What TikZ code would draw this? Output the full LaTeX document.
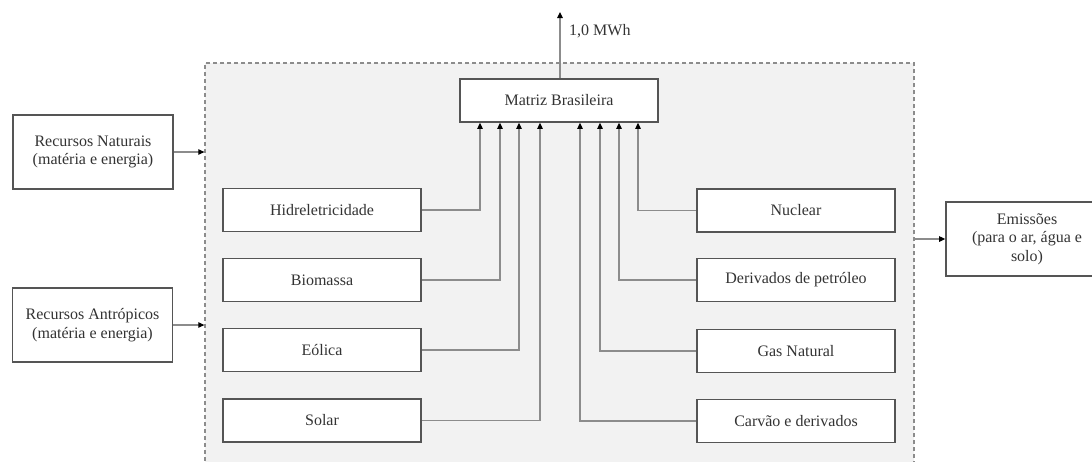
\documentclass[tikz,border=0pt]{standalone}
\usepackage{fontspec}
\setmainfont{Liberation Serif}
\usetikzlibrary{arrows.meta}
\definecolor{boxline}{HTML}{555555}
\definecolor{connline}{HTML}{8C8C8C}
\definecolor{panel}{HTML}{F2F2F2}
\definecolor{txt}{HTML}{333333}
\begin{document}
\begin{tikzpicture}[x=1pt,y=-1pt,
  every node/.style={font=\fontsize{16}{18.5}\selectfont, text=txt},
  srcbox/.style={draw=boxline, line width=1.7pt, fill=white, minimum width=198pt, minimum height=43pt, inner sep=0pt},
  sidebox/.style={draw=boxline, line width=1.7pt, fill=white, minimum width=160pt, minimum height=74pt, inner sep=2pt, align=center},
  conn/.style={draw=connline, line width=1.1pt},
  tip/.style={-{Triangle[length=6pt,width=5.5pt,color=black]}}
]
\useasboundingbox (0,0) rectangle (1092,461);
\clip (0,0) rectangle (1092,461);

% system boundary
\node[draw=connline, dashed, dash pattern=on 4pt off 3pt, line width=1.3pt, fill=panel,
      minimum width=709pt, minimum height=407pt, inner sep=0pt] (fr) at (559.5,266.5) {};

% central node
\node[srcbox] (mat) at (559,100.5) {Matriz Brasileira};
\coordinate (out) at (560,12);
\draw[conn, tip] (mat.north -| out) -- (out);
\node[anchor=west, inner sep=0pt] (mwh) at (569,31) {1,0 MWh};

% energy sources, left column
\node[srcbox] (hid) at (322,210) {Hidreletricidade};
\node[srcbox] (bio) at (322,280) {Biomassa};
\node[srcbox] (eol) at (322,350) {Eólica};
\node[srcbox] (sol) at (322,420.5) {Solar};

% energy sources, right column
\node[srcbox] (nuc) at (796,210.5) {Nuclear};
\node[srcbox] (der) at (796,280) {Derivados de petróleo};
\node[srcbox] (gas) at (796,351) {Gas Natural};
\node[srcbox] (car) at (796,421) {Carvão e derivados};

% source connectors into the matrix
\draw[conn, tip] (hid.east) -| ([xshift=-79pt]mat.south);
\draw[conn, tip] (bio.east) -| ([xshift=-59pt]mat.south);
\draw[conn, tip] (eol.east) -| ([xshift=-40pt]mat.south);
\draw[conn, tip] (sol.east) -| ([xshift=-19pt]mat.south);
\draw[conn, tip] (car.west) -| ([xshift=21pt]mat.south);
\draw[conn, tip] (gas.west) -| ([xshift=41pt]mat.south);
\draw[conn, tip] (der.west) -| ([xshift=60pt]mat.south);
\draw[conn, tip] (nuc.west) -| ([xshift=79pt]mat.south);

% inputs and outputs of the system
\node[sidebox] (rn) at (93,152) {Recursos Naturais\\(matéria e energia)};
\node[sidebox] (ra) at (92.5,325) {Recursos Antrópicos\\(matéria e energia)};
\node[sidebox, minimum width=162pt] (em) at (1027,239) {Emissões\\(para o ar, água e\\solo)};

\draw[conn, tip] (rn.east) -- (rn.east -| fr.west);
\draw[conn, tip] (ra.east) -- (ra.east -| fr.west);
\draw[conn, tip] (fr.east |- em.west) -- (em.west);
\end{tikzpicture}
\end{document}
